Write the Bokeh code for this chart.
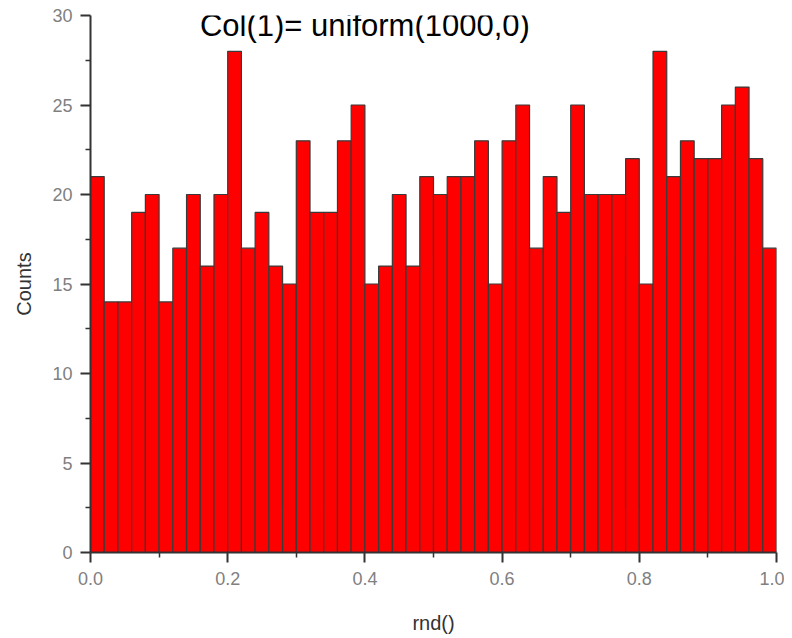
from bokeh.plotting import figure
from bokeh.models import FixedTicker, PrintfTickFormatter, Range1d, Label, ColumnDataSource
from bokeh.embed import file_html
from bokeh.resources import INLINE

bin_width = 0.02
counts = [21, 14, 14, 19, 20, 14, 17, 20, 16, 20,
          28, 17, 19, 16, 15, 23, 19, 19, 23, 25,
          15, 16, 20, 16, 21, 20, 21, 21, 23, 15,
          23, 25, 17, 21, 19, 25, 20, 20, 20, 22,
          15, 28, 21, 23, 22, 22, 25, 26, 22, 17]
x_ticks = [0.0, 0.2, 0.4, 0.6, 0.8, 1.0]
x_minor = [0.1, 0.3, 0.5, 0.7, 0.9]
y_ticks = [0, 5, 10, 15, 20, 25, 30]
y_minor = [2.5, 7.5, 12.5, 17.5, 22.5, 27.5]
title_text = "Col(1)= uniform(1000,0)"

lefts = [i * bin_width for i in range(len(counts))]
rights = [l + bin_width for l in lefts]
src = ColumnDataSource(dict(left=lefts, right=rights, top=counts, bottom=[0] * len(counts)))

p = figure(width=784, height=636, output_backend="svg", toolbar_location=None,
           x_range=Range1d(0, 1.0), y_range=Range1d(0, 30),
           min_border_left=90, min_border_right=8, min_border_top=15, min_border_bottom=84)
p.outline_line_color = None
p.xgrid.visible = False
p.ygrid.visible = False
p.background_fill_color = "white"

p.quad(left="left", right="right", top="top", bottom="bottom", source=src,
       fill_color="#ff0000", line_color="#3a3a3a", line_width=1.2)

for ax in (p.xaxis[0], p.yaxis[0]):
    ax.axis_line_color = "#333333"
    ax.axis_line_width = 2
    ax.major_tick_line_color = "#333333"
    ax.minor_tick_line_color = "#333333"
    ax.major_tick_line_width = 2
    ax.minor_tick_line_width = 1.5
    ax.major_tick_out = 10
    ax.major_tick_in = 0
    ax.minor_tick_out = 5
    ax.minor_tick_in = 0
    ax.major_label_text_font = "Liberation Sans"
    ax.major_label_text_font_size = "18px"
    ax.major_label_text_color = "#808080"
    ax.axis_label_text_font = "Liberation Sans"
    ax.axis_label_text_font_size = "20px"
    ax.axis_label_text_font_style = "normal"
    ax.axis_label_text_color = "#333333"

p.xaxis.ticker = FixedTicker(ticks=x_ticks, minor_ticks=x_minor)
p.yaxis.ticker = FixedTicker(ticks=y_ticks, minor_ticks=y_minor)
p.xaxis.formatter = PrintfTickFormatter(format="%.1f")
p.xaxis.major_label_standoff = 9
p.yaxis.major_label_standoff = 8
p.xaxis.axis_label = "rnd()"
p.yaxis.axis_label = "Counts"
p.xaxis.axis_label_standoff = 24
p.yaxis.axis_label_standoff = 14

p.add_layout(Label(x=0.40, y=30, y_offset=8, text=title_text, text_align="center",
                   text_baseline="top", text_font="Liberation Sans",
                   text_font_size="31px", text_color="#000000"))

open("out.html", "w").write(file_html(p, INLINE))
